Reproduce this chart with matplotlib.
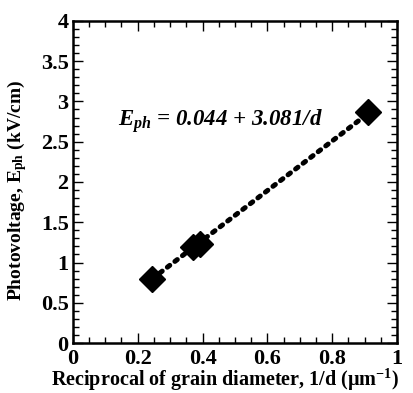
import matplotlib
matplotlib.use("Agg")
import matplotlib.pyplot as plt
import numpy as np
from matplotlib.ticker import MultipleLocator

# данные
inv_d = [0.245, 0.372, 0.392, 0.912]
e_ph = [0.79, 1.19, 1.23, 2.87]
fit_a, fit_b = 0.044, 3.081
x_ticks = [0, 0.2, 0.4, 0.6, 0.8, 1]
x_tick_labels = ["0", "0.2", "0.4", "0.6", "0.8", "1"]
y_ticks = [0, 0.5, 1, 1.5, 2, 2.5, 3, 3.5, 4]
y_tick_labels = ["0", "0.5", "1", "1.5", "2", "2.5", "3", "3.5", "4"]

plt.rcParams["font.family"] = ["Liberation Serif", "DejaVu Serif"]
plt.rcParams["font.weight"] = "bold"
plt.rcParams["axes.labelweight"] = "bold"
plt.rcParams["mathtext.fontset"] = "custom"
plt.rcParams["mathtext.rm"] = "Liberation Serif:bold"
plt.rcParams["mathtext.it"] = "Liberation Serif:bold:italic"
plt.rcParams["mathtext.bf"] = "Liberation Serif:bold"

fig = plt.figure(figsize=(4.14, 3.93), dpi=100)
ax = fig.add_axes([0.176, 0.127, 0.783, 0.82])

# линия аппроксимации
xf = np.linspace(min(inv_d), max(inv_d), 50)
ax.plot(xf, fit_a + fit_b * xf, color="black", linestyle=(0, (0.6, 1.3)),
        linewidth=3.6, dash_capstyle="round")
ax.plot(inv_d, e_ph, linestyle="none", marker="D", markersize=13, color="black")

ax.set_xlim(0, 1)
ax.set_ylim(0, 4)
ax.set_xticks(x_ticks)
ax.set_xticklabels(x_tick_labels)
ax.set_yticks(y_ticks)
ax.set_yticklabels(y_tick_labels)
ax.xaxis.set_minor_locator(MultipleLocator(0.05))
ax.yaxis.set_minor_locator(MultipleLocator(0.1))
ax.tick_params(which="both", direction="in", top=True, right=True, width=1)
ax.tick_params(which="major", length=7, labelsize=16)
ax.tick_params(axis="x", which="major", pad=4)
ax.tick_params(axis="y", which="major", pad=3)
ax.tick_params(which="minor", length=4)
for s in ax.spines.values():
    s.set_linewidth(1.8)

ax.set_xlabel(r"Reciprocal of grain diameter, 1/d ($\mathrm{\mu m^{-1}}$)",
              fontsize=14.5, fontweight="bold")
ax.set_ylabel(r"Photovoltage, E$_{\mathrm{ph}}$ (kV/cm)",
              fontsize=14, fontweight="bold")
ax.xaxis.set_label_coords(0.47, -0.075)
ax.yaxis.set_label_coords(-0.135, 0.475)

ax.text(0.14, 2.7, r"$E_{ph}$ = 0.044 + 3.081/d", fontsize=16.5,
        fontweight="bold", fontstyle="italic")

fig.savefig("out.png", dpi=100)
